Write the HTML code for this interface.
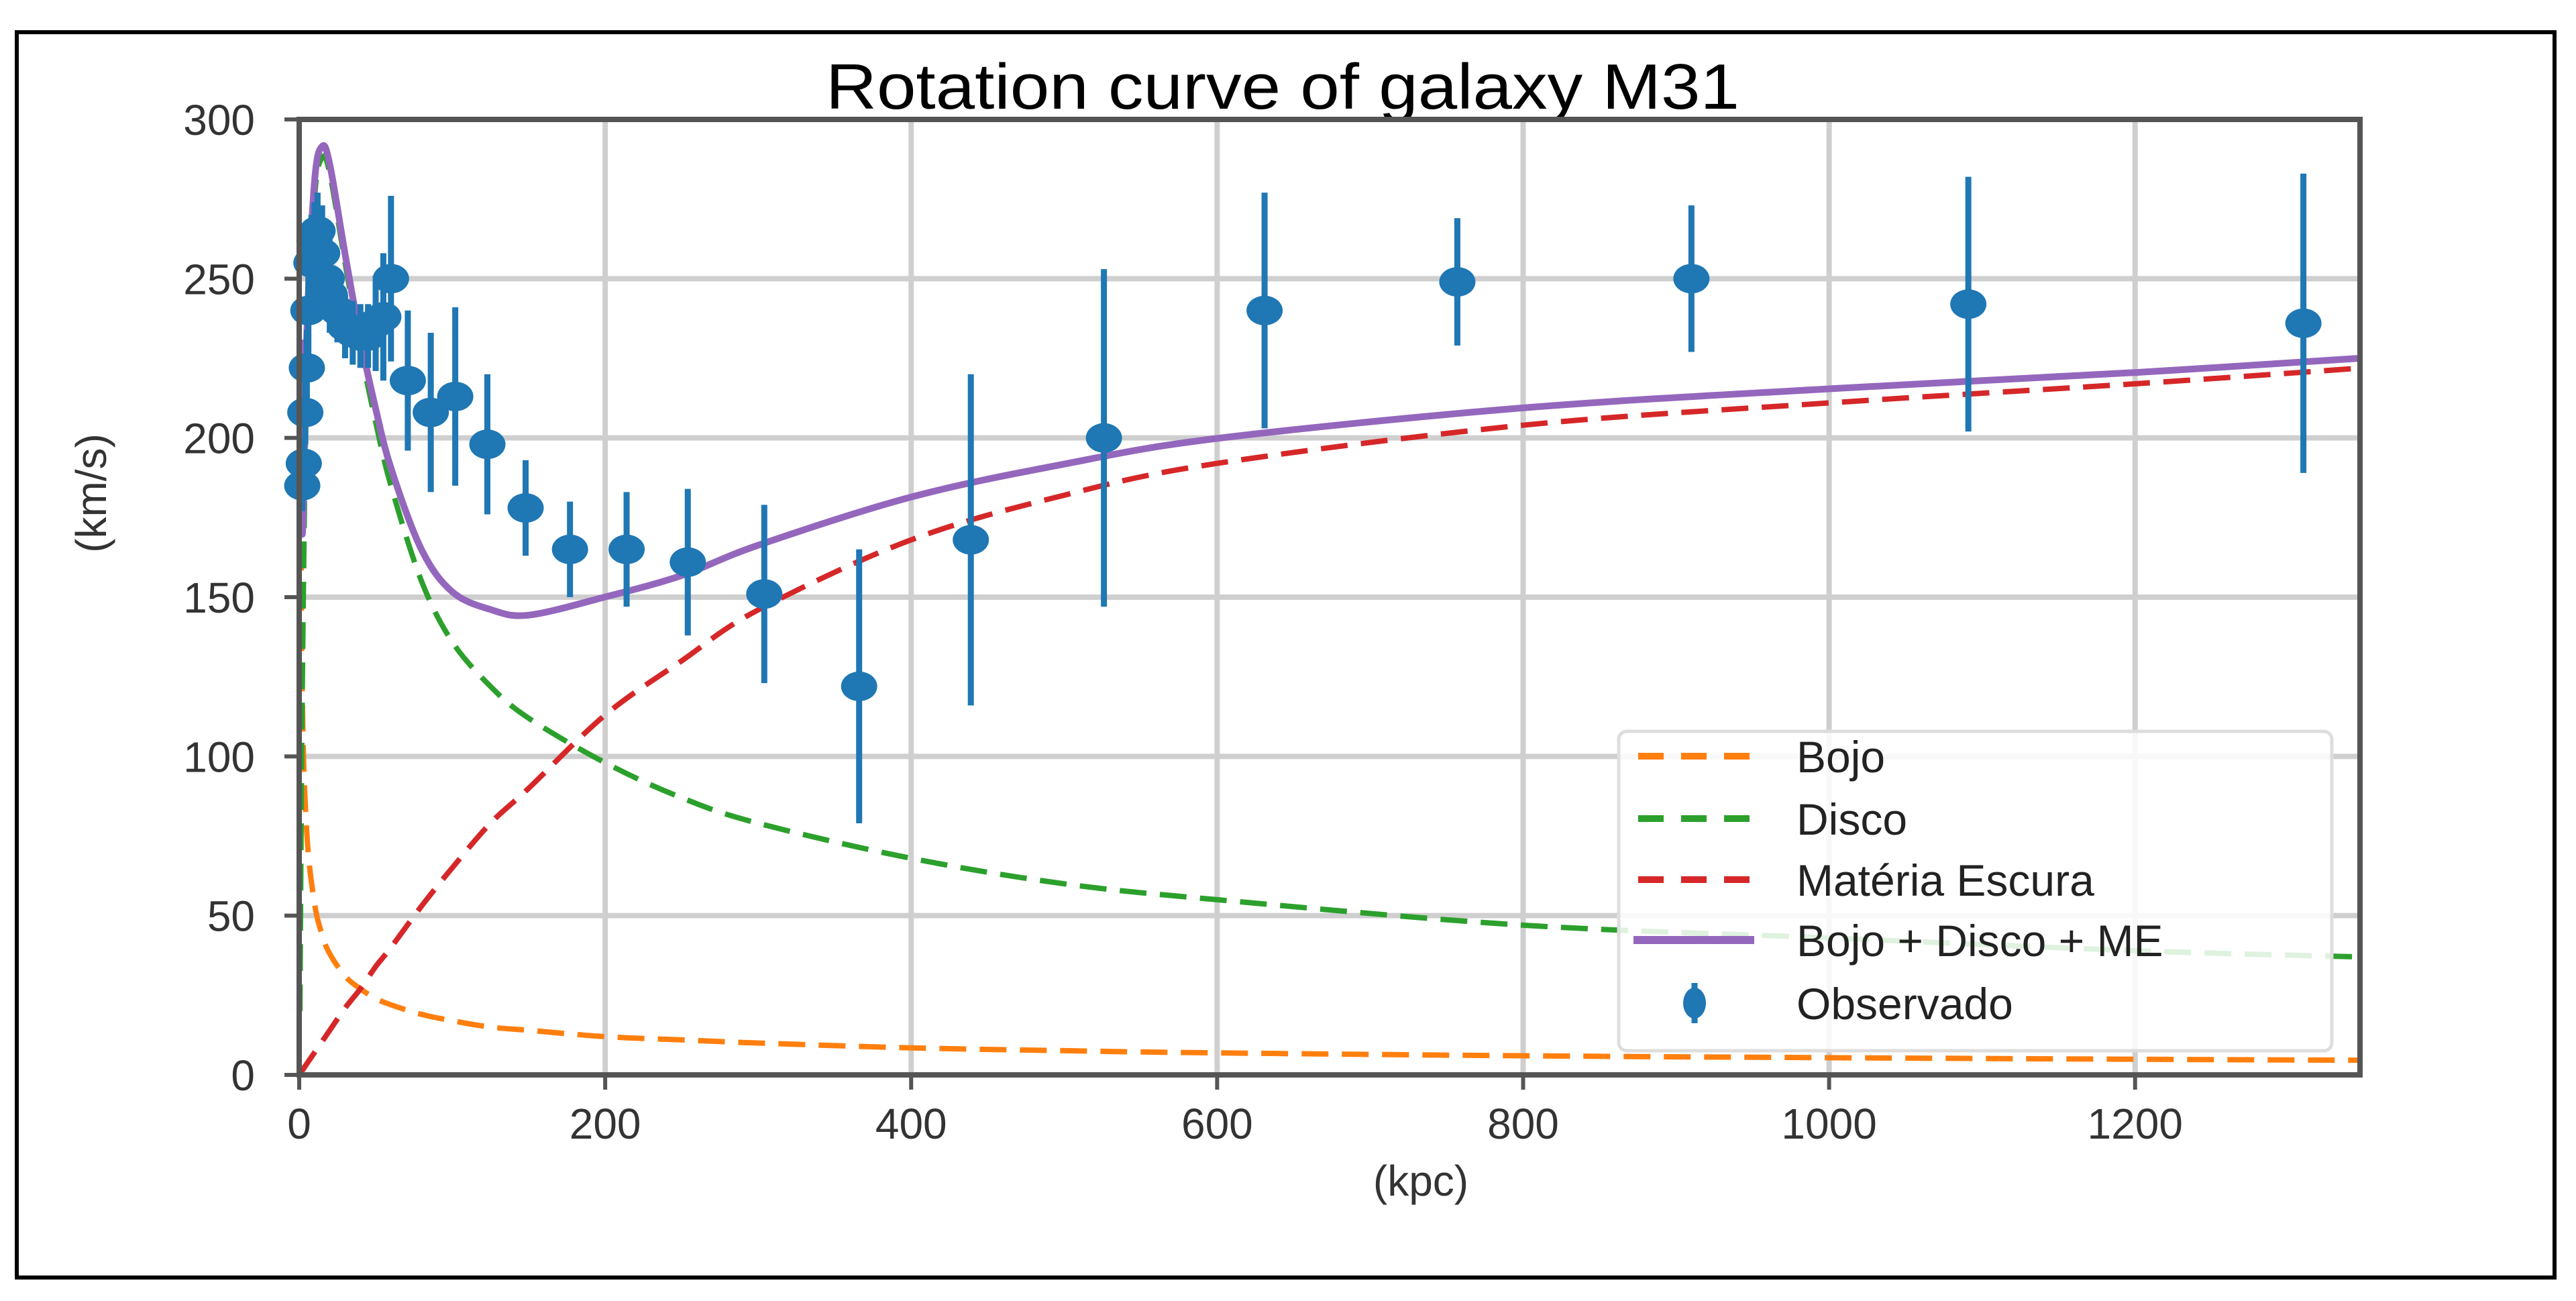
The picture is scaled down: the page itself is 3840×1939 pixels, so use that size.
<!DOCTYPE html>
<html><head><meta charset="utf-8"><style>
html,body{margin:0;padding:0;background:#fff;}
svg{display:block;font-family:"Liberation Sans",sans-serif;}
</style></head><body>
<svg id="chart" width="3840" height="1939" viewBox="0 0 3840 1939" xmlns="http://www.w3.org/2000/svg">
<rect x="25" y="48" width="3783" height="1856" fill="#fff" stroke="#000" stroke-width="6"/>
<text x="1231" y="162" font-size="96" textLength="1362" lengthAdjust="spacingAndGlyphs" fill="#000">Rotation curve of galaxy M31</text>
<g id="grid"></g>
<g id="curves"></g>
<g id="points"></g>
<g id="axes"></g>
<g id="legend"></g>
</svg>
<script>
const xTicks=[0,200,400,600,800,1000,1200];
const yTicks=[0,50,100,150,200,250,300];
const modelR=[0.5,2,5,10,15,20,30,40,50,60,80,100,125,150,200,250,300,400,500,600,800,1000,1200,1350];
const bulgeV=[230,120,76,54,44,38,31,27,24,22,19,17,15,14,12,11,10,8.5,7.6,6.9,6,5.4,4.9,4.6];
const diskV=[20,120,220,275,288,283,255,228,205,185,155,136,122,112,98,87,79,68,60,55,47,43,39,37];
const haloV=[0.3,1.4,3.5,7,10.5,14,21,27,34,40,53,65,79,90,113,130,146,168,182,192,204,211,217,222];
const obsR=[2,3,4,5,6,8,10,12,15,18,20,25,30,35,40,45,50,55,60,71,86,102,123,148,177,214,254,304,366,439,526,631,757,910,1091,1310];
const obsV=[185,192,208,222,240,255,262,265,258,250,245,240,235,233,232,232,236,238,250,218,208,213,198,178,165,165,161,151,122,168,200,240,249,250,242,236];
const obsErr=[8,8,10,12,15,15,12,12,15,12,12,10,10,10,10,10,15,20,26,22,25,28,22,15,15,18,23,28,43,52,53,37,20,23,40,47];
const legendLabels=["Bojo","Disco","Matéria Escura","Bojo + Disco + ME","Observado"];

const X0=446,X1=3518,Y0=1602,Y1=178,XMAX=1347,YMAX=300;
const sx=v=>X0+(v/XMAX)*(X1-X0);
const sy=v=>Y0-(v/YMAX)*(Y0-Y1);
const NS="http://www.w3.org/2000/svg";
function mk(tag,attrs,parent){const e=document.createElementNS(NS,tag);for(const k in attrs)e.setAttribute(k,attrs[k]);parent.appendChild(e);return e;}
const grid=document.getElementById('grid'),axes=document.getElementById('axes'),curves=document.getElementById('curves'),points=document.getElementById('points'),legend=document.getElementById('legend');
mk('rect',{x:X0,y:Y1,width:X1-X0,height:Y0-Y1,fill:'#fff'},grid);
xTicks.forEach(t=>{
 const l=mk('line',{x1:sx(t),x2:sx(t),y1:Y1,y2:Y0,stroke:'#cfcfcf','stroke-width':8},grid);
 
 
 mk('line',{x1:sx(t),x2:sx(t),y1:Y0,y2:Y0+22,stroke:'#555','stroke-width':6},axes);
 const tx=mk('text',{x:sx(t),y:1697,'font-size':64,'text-anchor':'middle',fill:'#333'},axes);
 tx.textContent=t;
 
 
});
yTicks.forEach(t=>{
 const l=mk('line',{x1:X0,x2:X1,y1:sy(t),y2:sy(t),stroke:'#cfcfcf','stroke-width':8},grid);
 
 
 mk('line',{x1:X0-22,x2:X0,y1:sy(t),y2:sy(t),stroke:'#555','stroke-width':6},axes);
 const tx=mk('text',{x:380,y:sy(t)+23,'font-size':64,'text-anchor':'end',fill:'#333'},axes);
 tx.textContent=t;
 
 
});
mk('rect',{x:X0,y:Y1,width:X1-X0,height:Y0-Y1,fill:'none',stroke:'#555','stroke-width':8},axes);
const xl=mk('text',{x:2118,y:1782,'font-size':64,'text-anchor':'middle',fill:'#333'},axes);
xl.textContent='(kpc)';


const yl=mk('text',{x:0,y:0,'font-size':64,'text-anchor':'middle',fill:'#333',transform:'translate(158,735) rotate(-90)'},axes);
yl.textContent='(km/s)';



const defs=mk('defs',{},curves);
const cp=mk('clipPath',{id:'pc'},defs);
mk('rect',{x:X0,y:Y1-40,width:X1-X0,height:Y0-Y1+40},cp);
function pathFor(vals){
 const P=modelR.map((r,i)=>[sx(r),sy(vals[i])]);
 let d='M'+P[0][0].toFixed(1)+','+P[0][1].toFixed(1);
 for(let i=0;i<P.length-1;i++){
  const p0=P[Math.max(0,i-1)],p1=P[i],p2=P[i+1],p3=P[Math.min(P.length-1,i+2)];
  const c1=[p1[0]+(p2[0]-p0[0])/6,p1[1]+(p2[1]-p0[1])/6];
  const c2=[p2[0]-(p3[0]-p1[0])/6,p2[1]-(p3[1]-p1[1])/6];
  c1[0]=Math.min(Math.max(c1[0],p1[0]),p2[0]);c2[0]=Math.min(Math.max(c2[0],p1[0]),p2[0]);
  d+=' C'+c1[0].toFixed(1)+','+c1[1].toFixed(1)+' '+c2[0].toFixed(1)+','+c2[1].toFixed(1)+' '+p2[0].toFixed(1)+','+p2[1].toFixed(1);
 }
 return d;
}
const totalV=modelR.map((r,i)=>Math.sqrt(bulgeV[i]**2+diskV[i]**2+haloV[i]**2));
const series=[[bulgeV,'#ff7f0e','bulge-curve'],[diskV,'#2ca02c','disk-curve'],[haloV,'#d62728','dark-matter-curve']];
series.forEach(s=>{
 const p=mk('path',{d:pathFor(s[0]),fill:'none',stroke:s[1],'stroke-width':8,'stroke-dasharray':'40 20','clip-path':'url(#pc)'},curves);
 
 
});
const tp=mk('path',{d:pathFor(totalV),fill:'none',stroke:'#9467bd','stroke-width':10,'stroke-linejoin':'round','clip-path':'url(#pc)'},curves);



obsR.forEach((r,i)=>{
 const g=mk('g',{},points);
 
 
 mk('line',{x1:sx(r),x2:sx(r),y1:sy(obsV[i]-obsErr[i]),y2:sy(obsV[i]+obsErr[i]),stroke:'#1f77b4','stroke-width':9},g);
 mk('ellipse',{cx:sx(r),cy:sy(obsV[i]),rx:27,ry:22,fill:'#1f77b4'},g);
});

mk('rect',{x:2413,y:1090,width:1063,height:476,rx:12,fill:'#fff','fill-opacity':0.85,stroke:'#ddd','stroke-width':5},legend);
const legY=[1127,1220,1311,1401,1495];
const legCol=['#ff7f0e','#2ca02c','#d62728','#9467bd','#1f77b4'];
legendLabels.forEach((lab,i)=>{
 const g=mk('g',{},legend);
 
 
 const y=legY[i];
 if(i<3) mk('line',{x1:2442,x2:2609,y1:y,y2:y,stroke:legCol[i],'stroke-width':10,'stroke-dasharray':'38 26'},g);
 else if(i===3) mk('line',{x1:2435,x2:2615,y1:y,y2:y,stroke:legCol[i],'stroke-width':12},g);
 else {mk('line',{x1:2526,x2:2526,y1:y-30,y2:y+30,stroke:legCol[i],'stroke-width':9},g);mk('ellipse',{cx:2526,cy:y,rx:17,ry:23,fill:legCol[i]},g);}
 const t=mk('text',{x:2678,y:y+24,'font-size':66,fill:'#222'},g);
 t.textContent=lab;
});
</script>
</body></html>
